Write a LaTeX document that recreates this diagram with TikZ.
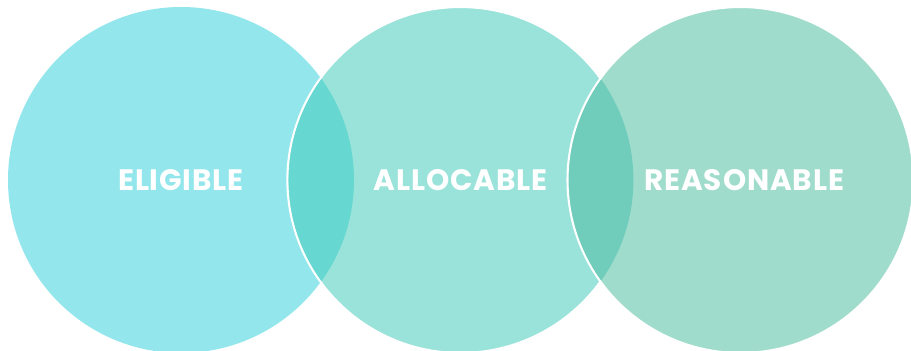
\documentclass[tikz,border=0pt]{standalone}
\usepackage{fontspec}
\newfontfamily\vennfont{Poppins}[LetterSpace=3]
\usetikzlibrary{positioning}

\definecolor{eligiblecol}{HTML}{93E6EB}
\definecolor{allocablecol}{HTML}{9AE3DA}
\definecolor{reasonablecol}{HTML}{A0DCCC}
\definecolor{lensone}{HTML}{66D7D1}
\definecolor{lenstwo}{HTML}{70CDBB}

\begin{document}
\begin{tikzpicture}[%
    node distance=-1.36cm,
vennnode/.style={circle, inner sep=0pt, minimum size=6.92cm, text=white, font=\vennfont\bfseries\fontsize{16.8}{19}\selectfont},
firstnode/.style={vennnode, fill=eligiblecol},
nextnode/.style={vennnode, draw=white, line width=1.2pt}
]

\useasboundingbox (0,0) rectangle (18.22,7.02);
\clip (0,0) rectangle (18.22,7.02);

% circles
\node[firstnode]      (eligible)  at (3.62,3.42) {ELIGIBLE};
\node[nextnode, fill=allocablecol]      (allocable) [right=of eligible] {ALLOCABLE};
\node[nextnode, fill=reasonablecol]      (reasonable) [right=of allocable] {\hspace{0.15cm}REASONABLE};

% overlaps
\begin{scope}
\clip (eligible.center) circle (3.46cm);
\fill[lensone] (allocable.center) circle (3.435cm);
\end{scope}

\begin{scope}
\clip (allocable.center) circle (3.46cm);
\fill[lenstwo] (reasonable.center) circle (3.435cm);
\end{scope}

\end{tikzpicture}
\end{document}
